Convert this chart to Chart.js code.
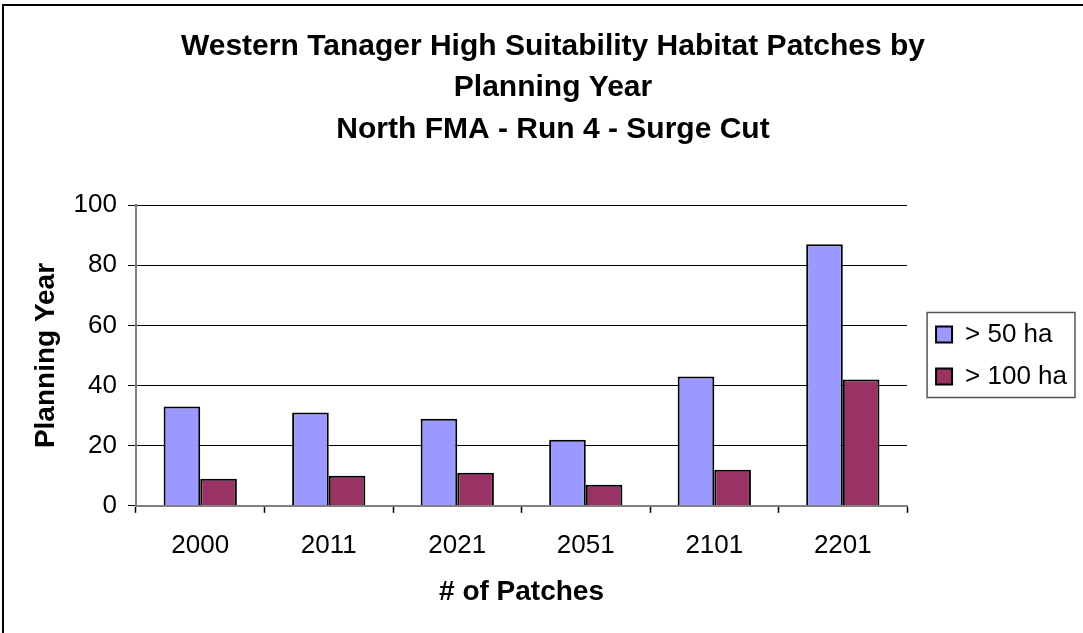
<!DOCTYPE html>
<html>
<head>
<meta charset="utf-8">
<script src="https://cdn.jsdelivr.net/npm/chart.js@4"></script>
<style>
    html, body { margin: 0; padding: 0; background: #fff; overflow: hidden; }
    #wrap { position: relative; width: 1083px; height: 633px; }
    #marco { position: absolute; left: 2px; top: 4px; width: 1200px; height: 800px; border: 2px solid #000; }
    #grafico { position: absolute; left: 0; top: 0; }
</style>
</head>
<body>
<div id="wrap">
    <div id="marco"></div>
    <canvas id="grafico" width="1083" height="633"></canvas>
</div>
<script>
const anios = ['2000', '2011', '2021', '2051', '2101', '2201'];
const parches50 = [33, 31, 29, 22, 43, 87];
const parches100 = [9, 10, 11, 7, 12, 42];
const ticksY = [0, 20, 40, 60, 80, 100];

const fuente = "Arial, 'Liberation Sans', sans-serif";

// recuadro alrededor de la leyenda
const marcoLeyenda = {
    id: 'marcoLeyenda',
    afterDraw(chart) {
        const cajas = chart.legend && chart.legend.legendHitBoxes;
        if (!cajas || !cajas.length) return;
        const x0 = Math.min(...cajas.map(c => c.left)) - 9;
        const y0 = Math.min(...cajas.map(c => c.top)) - 9;
        const x1 = Math.max(...cajas.map(c => c.left + c.width)) + 8;
        const y1 = Math.max(...cajas.map(c => c.top + c.height)) + 8;
        const ctx = chart.ctx;
        ctx.save();
        ctx.strokeStyle = '#555';
        ctx.lineWidth = 1.5;
        ctx.strokeRect(x0, y0, x1 - x0, y1 - y0);
        ctx.restore();
    }
};

new Chart(document.getElementById('grafico').getContext('2d'), {
    type: 'bar',
    data: {
        labels: anios,
        datasets: [{
            label: '> 50 ha',
            data: parches50,
            backgroundColor: '#9999FF',
            borderColor: '#000',
            borderWidth: 2
        }, {
            label: '> 100 ha',
            data: parches100,
            backgroundColor: '#993366',
            borderColor: '#000',
            borderWidth: 2
        }]
    },
    options: {
        responsive: false,
        animation: false,
        categoryPercentage: 0.57,
        barPercentage: 1,
        layout: { padding: { left: 29, right: 6, top: 26, bottom: 27 } },
        plugins: {
            title: {
                display: true,
                text: ['Western Tanager High Suitability Habitat Patches by', 'Planning Year', 'North FMA - Run 4 - Surge Cut'],
                color: '#000',
                font: { family: fuente, size: 30, weight: 'bold', lineHeight: 1.38 },
                padding: { top: 0, bottom: 55 }
            },
            legend: {
                position: 'right',
                fullSize: false,
                labels: {
                    color: '#000',
                    font: { family: fuente, size: 26 },
                    boxWidth: 16,
                    boxHeight: 16,
                    padding: 16,
                    useBorderRadius: false
                }
            },
            tooltip: { enabled: false }
        },
        scales: {
            x: {
                grid: { drawOnChartArea: false, color: '#000', tickLength: 7, tickWidth: 1.5 },
                border: { color: '#808080', width: 2 },
                ticks: { color: '#000', font: { family: fuente, size: 26 }, padding: 17 },
                title: {
                    display: true,
                    text: '# of Patches',
                    color: '#000',
                    font: { family: fuente, size: 28, weight: 'bold', lineHeight: 1 },
                    padding: { top: 0, bottom: 0 }
                }
            },
            y: {
                min: 0,
                max: 100,
                afterBuildTicks(axis) { axis.ticks = ticksY.map(v => ({ value: v })); },
                grid: { color: '#000', lineWidth: 1, tickLength: 8 },
                border: { color: '#808080', width: 2 },
                ticks: { color: '#000', font: { family: fuente, size: 26 }, padding: 11 },
                title: {
                    display: true,
                    text: 'Planning Year',
                    color: '#000',
                    font: { family: fuente, size: 28, weight: 'bold' },
                    padding: { top: 0, bottom: 0 }
                }
            },
            // eje vacío a la derecha: solo deja aire entre el gráfico y la leyenda
            margenDer: {
                position: 'right',
                display: true,
                grid: { display: false },
                border: { display: false },
                ticks: { display: false },
                afterFit(axis) { axis.width = 13; }
            }
        }
    },
    plugins: [marcoLeyenda]
});
</script>
</body>
</html>
